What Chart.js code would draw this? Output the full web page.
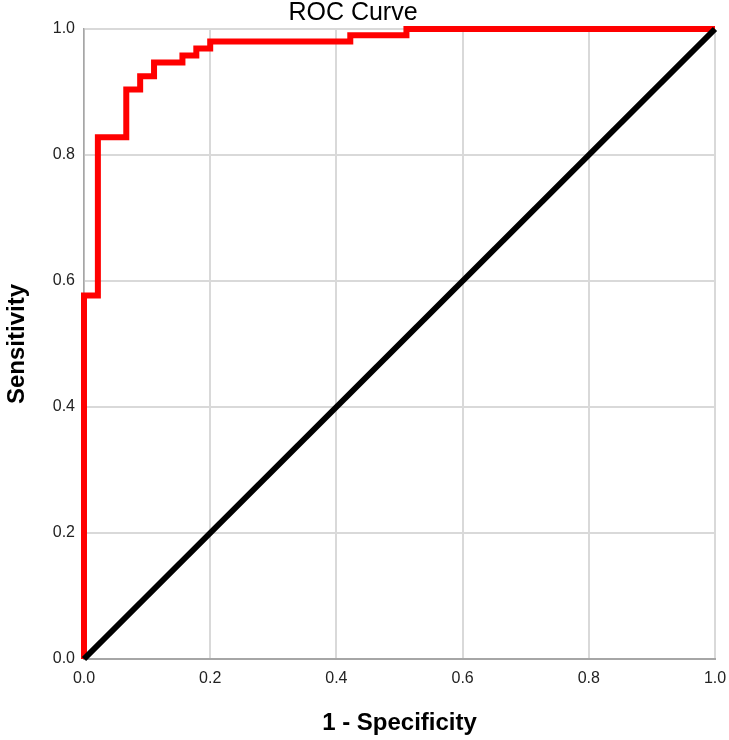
<!DOCTYPE html>
<html>
<head>
<meta charset="utf-8">
<title>ROC Curve</title>
<script src="https://cdn.jsdelivr.net/npm/chart.js@4.4.1/dist/chart.umd.min.js"></script>
<style>
  html, body { margin: 0; padding: 0; background: #fff; }
  canvas { display: block; }
</style>
</head>
<body>
<canvas id="roc" width="729" height="740"></canvas>
<script>
// ROC coordinates (corner points of the step curve)
const FPR = [0, 0, 0.022, 0.067, 0.089, 0.111, 0.156, 0.178, 0.200, 0.422, 0.511, 1.0];
const TPR = [0, 0.577, 0.828, 0.904, 0.925, 0.947, 0.958, 0.969, 0.980, 0.990, 1.0, 1.0];
// reference line
const DIAG_X = [0, 1];
const DIAG_Y = [0, 1];
const TICKS = [0, 0.2, 0.4, 0.6, 0.8, 1.0];

const FONT = "'Liberation Sans', Arial, sans-serif";

const toPoints = (xs, ys) => xs.map((x, i) => ({ x, y: ys[i] }));

// SPSS puts the title a little left of the plot centre
const titlePlugin = {
  id: 'spssTitle',
  afterDraw(chart) {
    const ctx = chart.ctx;
    ctx.save();
    ctx.font = `25px ${FONT}`;
    ctx.fillStyle = '#000';
    ctx.textAlign = 'center';
    ctx.textBaseline = 'middle';
    ctx.fillText('ROC Curve', 353, 13);
    ctx.restore();
  },
};

const axisCommon = {
  type: 'linear',
  min: 0,
  max: 1,
  afterBuildTicks: scale => { scale.ticks = TICKS.map(v => ({ value: v })); },
  grid: { color: '#d9d9d9', lineWidth: 2, drawTicks: false },
};

new Chart(document.getElementById('roc').getContext('2d'), {
  type: 'scatter',
  plugins: [titlePlugin],
  data: {
    datasets: [
      {
        data: toPoints(DIAG_X, DIAG_Y),
        showLine: true,
        borderColor: '#000',
        borderWidth: 6,
        pointRadius: 0,
        clip: 8,
        order: 0,
      },
      {
        data: toPoints(FPR, TPR),
        showLine: true,
        stepped: 'before',
        borderColor: '#ff0000',
        borderWidth: 6,
        pointRadius: 0,
        clip: 8,
        order: 1,
      },
    ],
  },
  options: {
    responsive: false,
    animation: false,
    layout: { padding: { top: 29, right: 14, left: 0, bottom: 0 } },
    plugins: {
      legend: { display: false },
      tooltip: { enabled: false },
    },
    scales: {
      x: {
        ...axisCommon,
        afterFit: s => { s.height = 81; s.paddingLeft = 0; s.paddingRight = 0; },
        border: { color: '#a6a6a6', width: 2 },
        ticks: {
          padding: 10,
          color: '#222',
          font: { family: FONT, size: 16 },
          callback: v => v.toFixed(1),
        },
        title: {
          display: true,
          text: '1 - Specificity',
          color: '#000',
          font: { family: FONT, size: 24, weight: 'bold' },
          padding: { top: 0, bottom: 2 },
        },
      },
      y: {
        ...axisCommon,
        afterFit: s => { s.width = 84; s.paddingTop = 0; s.paddingBottom = 0; },
        border: { color: '#a6a6a6', width: 1.5 },
        ticks: {
          padding: 9,
          color: '#222',
          font: { family: FONT, size: 16 },
          callback: v => v.toFixed(1),
        },
        title: {
          display: true,
          text: 'Sensitivity',
          color: '#000',
          font: { family: FONT, size: 24, weight: 'bold' },
          padding: { top: 3, bottom: 0 },
        },
      },
    },
  },
});
</script>
</body>
</html>
